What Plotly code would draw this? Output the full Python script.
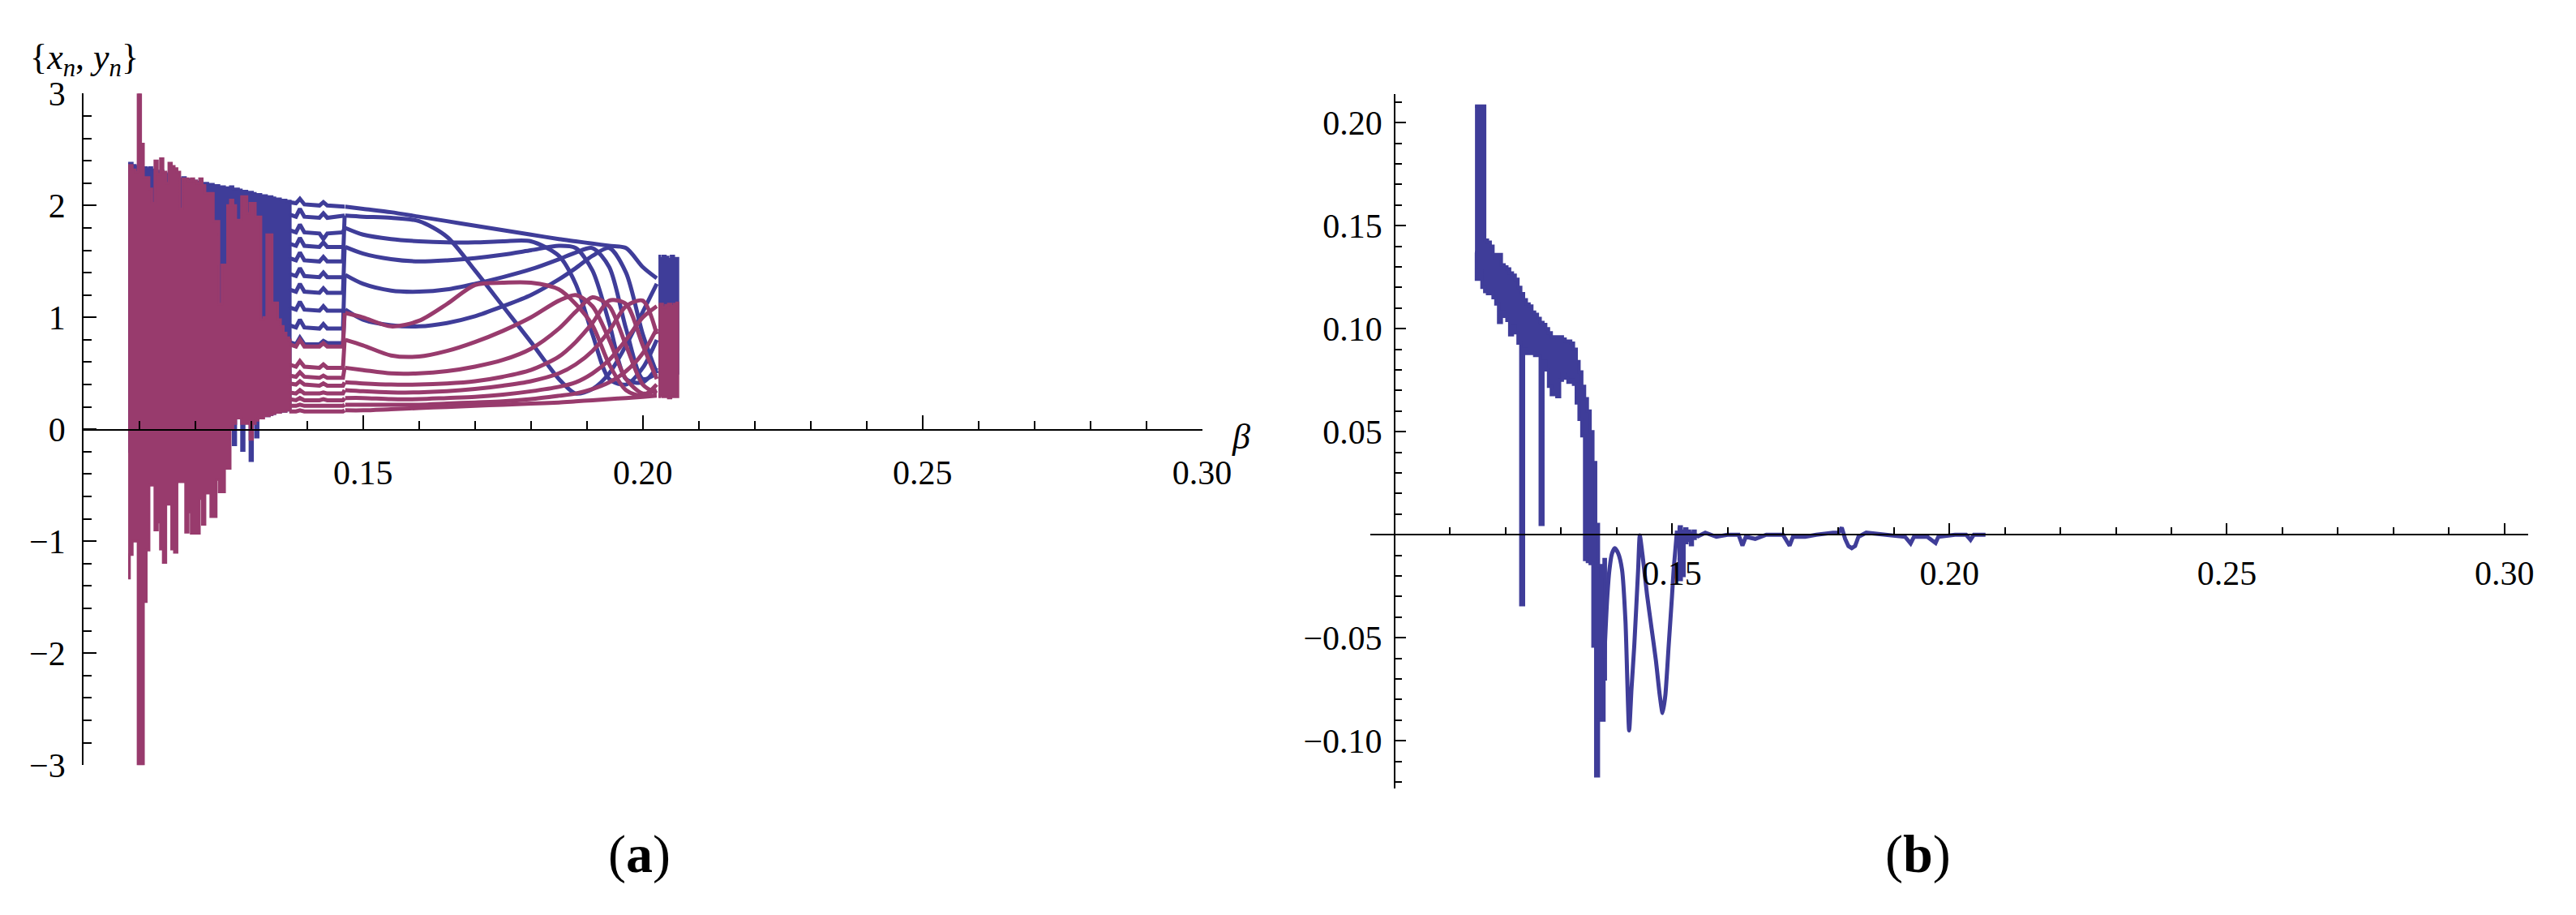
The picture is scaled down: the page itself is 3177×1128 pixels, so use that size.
import plotly.graph_objects as go

W, H = 3177, 1128
BLUE = "#3f3d99"
PURPLE = "#983b6d"
FONT = "Liberation Serif, Times New Roman, serif"

# ── (a) chaotic window: upper / lower envelopes of x_n (blue) and y_n (purple) ──
beta_chaos = [0.1080, 0.1085, 0.1090, 0.1095, 0.1100, 0.1105, 0.1110, 0.1115, 0.1120, 0.1125,
              0.1130, 0.1135, 0.1140, 0.1145, 0.1150, 0.1155, 0.1160, 0.1165, 0.1170, 0.1175,
              0.1180, 0.1185, 0.1190, 0.1195, 0.1200, 0.1205, 0.1210, 0.1215, 0.1220, 0.1225,
              0.1230, 0.1235, 0.1240, 0.1245, 0.1250, 0.1255, 0.1260, 0.1265, 0.1270, 0.1275,
              0.1280, 0.1285, 0.1290, 0.1295, 0.1300, 0.1305, 0.1310, 0.1315, 0.1320, 0.1325,
              0.1330, 0.1335, 0.1340, 0.1345, 0.1350, 0.1355, 0.1360, 0.1365, 0.1370]
y_chaos_hi = [2.36, 2.36, 2.32, 2.30, 3.00, 2.55, 2.25, 2.25, 2.15, 2.02,
              2.40, 2.28, 2.42, 2.30, 2.20, 2.38, 2.35, 2.33, 2.30, 1.97,
              2.24, 2.24, 2.22, 2.24, 2.22, 2.20, 2.24, 2.18, 2.11, 2.11,
              2.11, 1.86, 1.86, 1.12, 1.47, 1.47, 2.00, 2.05, 2.00, 1.87,
              1.87, 2.08, 2.08, 1.93, 2.02, 2.02, 1.90, 1.90, 0.98, 1.00,
              1.74, 1.74, 1.13, 1.13, 0.98, 0.92, 0.86, 0.82, 0.80]
y_chaos_lo = [-1.33, -1.12, -1.00, -1.00, -3.00, -3.00, -1.54, -1.08, -0.50, -0.50,
              -0.90, -0.83, -1.07, -1.19, -0.67, -0.67, -1.07, -1.10, -0.47, -0.47,
              -0.47, -0.92, -0.74, -0.93, -0.93, -0.93, -0.62, -0.85, -0.57, -0.57,
              -0.78, -0.78, -0.45, -0.56, -0.56, -0.35, -0.35, 0.01, 0.05, 0.10,
              0.10, 0.05, 0.05, 0.05, -0.09, 0.05, 0.08, 0.10, 0.10, 0.12,
              0.12, 0.13, 0.14, 0.15, 0.15, 0.16, 0.16, 0.17, 0.17]
x_chaos_hi = [2.38, 2.38, 2.36, 2.35, 2.36, 2.34, 2.34, 2.33, 2.34, 2.32,
              2.31, 2.30, 2.31, 2.29, 2.28, 2.29, 2.27, 2.26, 2.25, 2.24,
              2.25, 2.23, 2.23, 2.22, 2.22, 2.21, 2.21, 2.20, 2.20, 2.19,
              2.19, 2.18, 2.18, 2.17, 2.17, 2.16, 2.16, 2.17, 2.15, 2.15,
              2.14, 2.13, 2.13, 2.12, 2.12, 2.11, 2.10, 2.10, 2.09, 2.09,
              2.08, 2.08, 2.07, 2.06, 2.06, 2.05, 2.05, 2.04, 2.04]
x_chaos_lo = [-0.20, 0.20, 0.20, -0.24, 0.20, 0.20, 0.20, 0.20, 0.20, 0.20,
              0.20, 0.20, 0.20, 0.20, 0.20, 0.20, 0.20, 0.20, 0.20, -0.22,
              0.20, 0.20, 0.20, 0.20, 0.20, 0.20, 0.20, 0.20, 0.20, 0.20,
              0.20, 0.20, 0.20, 0.20, 0.20, 0.20, 0.20, 0.15, -0.14, 0.15,
              0.15, -0.19, 0.15, 0.15, -0.28, 0.12, -0.07, 0.12, 0.12, 0.12,
              0.12, 0.13, 0.14, 0.15, 0.15, 0.16, 0.16, 0.17, 0.17]

# ── (a) short periodic window before the jump at beta ≈ 0.1466 ──
beta_step = [0.1368, 0.1380, 0.1387, 0.1395, 0.1422, 0.1429, 0.1436, 0.1464, 0.1467]
x_step = [
    [2.03, 2.02, 2.06, 2.01, 2.00, 2.03, 2.00, 1.99, 1.99],
    [1.92, 1.90, 1.97, 1.90, 1.89, 1.93, 1.89, 1.90, 1.91],
    [1.78, 1.76, 1.83, 1.76, 1.75, 1.70, 1.75, 1.76, 1.80],
    [1.66, 1.64, 1.71, 1.64, 1.63, 1.67, 1.63, 1.63, 1.63],
    [1.53, 1.51, 1.58, 1.51, 1.50, 1.54, 1.50, 1.50, 1.91],
    [1.39, 1.37, 1.44, 1.37, 1.36, 1.40, 1.36, 1.36, 1.38],
    [1.25, 1.23, 1.30, 1.23, 1.22, 1.26, 1.22, 1.22, 1.63],
    [1.09, 1.07, 1.14, 1.07, 1.06, 1.10, 1.06, 1.06, 1.07],
    [0.93, 0.91, 0.98, 0.91, 0.90, 0.94, 0.90, 0.90, 1.38],
    [0.78, 0.76, 0.82, 0.76, 0.76, 0.79, 0.77, 0.77, 1.07],
]
y_step = [
    [0.76, 0.74, 0.80, 0.74, 0.74, 0.77, 0.74, 0.74, 1.04],
    [0.58, 0.56, 0.61, 0.56, 0.55, 0.58, 0.55, 0.55, 0.80],
    [0.48, 0.47, 0.51, 0.47, 0.46, 0.48, 0.46, 0.46, 0.55],
    [0.41, 0.40, 0.43, 0.40, 0.39, 0.41, 0.39, 0.39, 0.42],
    [0.33, 0.32, 0.35, 0.32, 0.32, 0.33, 0.32, 0.32, 0.35],
    [0.27, 0.26, 0.28, 0.26, 0.26, 0.27, 0.26, 0.26, 0.28],
    [0.21, 0.21, 0.22, 0.21, 0.21, 0.21, 0.21, 0.21, 0.22],
    [0.16, 0.16, 0.17, 0.16, 0.16, 0.16, 0.16, 0.16, 0.17],
]

# ── (a) smooth orbit branches ──
beta_smooth = [0.1468, 0.150, 0.155, 0.160, 0.165, 0.170, 0.175, 0.180,
               0.185, 0.188, 0.191, 0.194, 0.197, 0.200, 0.2025]
x_smooth = [
    [1.99, 1.97, 1.94, 1.90, 1.86, 1.82, 1.78, 1.74, 1.70, 1.68, 1.66, 1.64, 1.62, 1.45, 1.35],
    [1.91, 1.90, 1.89, 1.86, 1.72, 1.42, 1.10, 0.78, 0.45, 0.32, 0.36, 0.50, 0.75, 1.05, 1.30],
    [1.80, 1.74, 1.70, 1.68, 1.67, 1.67, 1.68, 1.68, 1.55, 1.30, 0.85, 0.45, 0.40, 0.55, 0.80],
    [1.63, 1.57, 1.52, 1.50, 1.51, 1.53, 1.56, 1.60, 1.64, 1.62, 1.42, 0.95, 0.45, 0.42, 0.55],
    [1.38, 1.30, 1.24, 1.23, 1.25, 1.30, 1.36, 1.43, 1.52, 1.58, 1.62, 1.45, 0.90, 0.45, 0.50],
    [1.07, 0.98, 0.93, 0.92, 0.95, 1.01, 1.10, 1.20, 1.34, 1.44, 1.55, 1.62, 1.40, 0.85, 0.50],
]
y_smooth = [
    [1.04, 1.00, 0.92, 0.97, 1.12, 1.29, 1.31, 1.31, 1.25, 1.12, 0.93, 0.58, 0.35, 0.30, 0.40],
    [0.80, 0.75, 0.66, 0.65, 0.70, 0.78, 0.88, 1.00, 1.15, 1.20, 1.10, 0.80, 0.45, 0.32, 0.35],
    [0.55, 0.53, 0.50, 0.50, 0.52, 0.56, 0.62, 0.72, 0.90, 1.05, 1.18, 1.10, 0.75, 0.40, 0.32],
    [0.42, 0.41, 0.40, 0.40, 0.41, 0.43, 0.47, 0.53, 0.65, 0.78, 0.95, 1.15, 1.12, 0.75, 0.45],
    [0.35, 0.34, 0.33, 0.33, 0.34, 0.36, 0.39, 0.43, 0.50, 0.58, 0.70, 0.88, 1.10, 1.15, 0.85],
    [0.28, 0.28, 0.27, 0.27, 0.28, 0.29, 0.31, 0.34, 0.38, 0.42, 0.50, 0.62, 0.80, 1.00, 1.10],
    [0.22, 0.22, 0.22, 0.22, 0.23, 0.24, 0.25, 0.27, 0.30, 0.32, 0.36, 0.42, 0.52, 0.68, 0.90],
    [0.17, 0.17, 0.18, 0.19, 0.20, 0.21, 0.22, 0.23, 0.24, 0.25, 0.26, 0.27, 0.28, 0.29, 0.30],
]

# ── (a) final dense band ──
beta_end = [0.2028, 0.2033, 0.2038, 0.2043, 0.2048, 0.2053, 0.2058, 0.2063]
x_end_hi = [1.55, 1.53, 1.55, 1.54, 1.52, 1.55, 1.53, 1.53]
x_end_lo = [0.45, 0.50, 0.45, 0.48, 0.50, 0.45, 0.48, 0.50]
y_end_hi = [1.10, 1.12, 1.09, 1.11, 1.12, 1.10, 1.12, 1.13]
y_end_lo = [0.29, 0.30, 0.29, 0.29, 0.28, 0.29, 0.29, 0.29]

# ── (b) noisy band ──
beta_b = [0.1145, 0.1150, 0.1155, 0.1160, 0.1165, 0.1170, 0.1175, 0.1180, 0.1185, 0.1190,
          0.1195, 0.1200, 0.1205, 0.1210, 0.1215, 0.1220, 0.1225, 0.1230, 0.1235, 0.1240,
          0.1245, 0.1250, 0.1255, 0.1260, 0.1265, 0.1270, 0.1275, 0.1280, 0.1285, 0.1290,
          0.1295, 0.1300, 0.1305, 0.1310, 0.1315, 0.1320, 0.1325, 0.1330, 0.1335, 0.1340,
          0.1345, 0.1350, 0.1355, 0.1360, 0.1365, 0.1370, 0.1375, 0.1380]
b_hi = [0.208, 0.208, 0.208, 0.208, 0.143, 0.142, 0.140, 0.136, 0.134, 0.136,
        0.131, 0.130, 0.129, 0.127, 0.126, 0.124, 0.120, 0.117, 0.114, 0.112,
        0.111, 0.108, 0.107, 0.105, 0.103, 0.102, 0.100, 0.098, 0.096, 0.096,
        0.095, 0.096, 0.095, 0.094, 0.094, 0.093, 0.090, 0.084, 0.079, 0.072,
        0.066, 0.060, 0.050, 0.035, 0.005, -0.015, -0.020, -0.012]
b_lo = [0.137, 0.124, 0.128, 0.120, 0.118, 0.117, 0.118, 0.115, 0.112, 0.103,
        0.108, 0.106, 0.104, 0.097, 0.101, 0.098, 0.093, -0.034, 0.090, 0.088,
        0.089, 0.088, 0.087, 0.087, 0.005, 0.084, 0.080, 0.072, 0.068, 0.070,
        0.067, 0.075, 0.078, 0.076, 0.074, 0.075, 0.073, 0.064, 0.056, 0.048,
        -0.012, -0.013, -0.014, -0.054, -0.117, -0.090, -0.090, -0.070]

# ── (b) smooth oscillation ──
beta_osc = [0.1378, 0.1383, 0.13873, 0.1392, 0.1397, 0.1403, 0.1410, 0.14162, 0.14228, 0.1427,
            0.1432, 0.1439, 0.1442, 0.1447, 0.1455, 0.1463, 0.1471, 0.1478, 0.1483, 0.1488,
            0.1494, 0.1500, 0.1503, 0.1509]
b_osc = [-0.060, -0.032, -0.017, -0.009, -0.0065, -0.009, -0.017, -0.042, -0.095, -0.075,
         -0.054, -0.017, -0.0003, -0.010, -0.029, -0.045, -0.061, -0.078, -0.0865, -0.078,
         -0.054, -0.030, -0.017, 0.002]

# ── (b) small noise then flat tail ──
beta_nz = [0.1510, 0.1515, 0.1520, 0.1525, 0.1530, 0.1535, 0.1540, 0.1545]
nz_hi = [0.003, 0.004, 0.002, 0.003, 0.002, 0.001, 0.002, 0.000]
nz_lo = [-0.012, -0.022, -0.020, -0.004, -0.003, -0.005, -0.002, -0.001]

beta_flat = [0.1545, 0.1560, 0.1580, 0.1600, 0.1620, 0.1627, 0.1633, 0.1650, 0.1670, 0.1700,
             0.1712, 0.1718, 0.1740, 0.1760, 0.1790, 0.1800, 0.1806, 0.1812, 0.1818, 0.1824,
             0.1830, 0.1836, 0.1850, 0.1880, 0.1920, 0.1930, 0.1936, 0.1960, 0.1975, 0.1980,
             0.2010, 0.2030, 0.2038, 0.2044, 0.2065]
b_flat = [-0.001, 0.001, -0.001, 0.000, 0.000, -0.0053, -0.001, -0.002, 0.000, 0.000,
          -0.0053, -0.001, -0.001, 0.000, 0.001, 0.001, 0.0035, -0.002, -0.0055, -0.0065,
          -0.0055, -0.001, 0.001, 0.000, -0.001, -0.0042, -0.001, -0.001, -0.004, -0.001,
          0.000, 0.000, -0.0025, 0.000, 0.000]

# ── ticks ──
xa_ticks = [0.15, 0.20, 0.25, 0.30]
xa_labels = ["0.15", "0.20", "0.25", "0.30"]
ya_ticks = [-3, -2, -1, 0, 1, 2, 3]
ya_labels = ["\u22123", "\u22122", "\u22121", "0", "1", "2", "3"]
xb_ticks = [0.15, 0.20, 0.25, 0.30]
xb_labels = ["0.15", "0.20", "0.25", "0.30"]
yb_ticks = [-0.10, -0.05, 0.05, 0.10, 0.15, 0.20]
yb_labels = ["\u22120.10", "\u22120.05", "0.05", "0.10", "0.15", "0.20"]

x_minor = [round(0.10 + 0.01 * k, 2) for k in range(1, 21) if k % 5]
ya_minor = [round(-3 + 0.2 * k, 1) for k in range(31) if k % 5]
yb_minor = [round(-0.12 + 0.01 * k, 2) for k in range(34) if (k - 2) % 5]


def band(beta, hi, lo):
    return list(beta) + list(beta[::-1]), list(hi) + list(lo[::-1])


def px_x(p):
    return p / W


def px_y(p):
    return (H - p) / H


fig = go.Figure()

# ── Panel (a): blue x_n first, purple y_n on top ─────────────────────────────
for color, ch_hi, ch_lo, steps, smooth, e_hi, e_lo in [
    (BLUE, x_chaos_hi, x_chaos_lo, x_step, x_smooth, x_end_hi, x_end_lo),
    (PURPLE, y_chaos_hi, y_chaos_lo, y_step, y_smooth, y_end_hi, y_end_lo),
]:
    bx, by = band(beta_chaos, ch_hi, ch_lo)
    fig.add_trace(go.Scatter(x=bx, y=by, mode="lines", fill="toself", fillcolor=color,
                             line=dict(color=color, width=3, shape="hvh"),
                             xaxis="x", yaxis="y", hoverinfo="skip"))
    for vals in steps:
        fig.add_trace(go.Scatter(x=beta_step, y=vals, mode="lines",
                                 line=dict(color=color, width=5),
                                 xaxis="x", yaxis="y", hoverinfo="skip"))
    for vals in smooth:
        fig.add_trace(go.Scatter(x=beta_smooth, y=vals, mode="lines",
                                 line=dict(color=color, width=5, shape="spline", smoothing=0.8),
                                 xaxis="x", yaxis="y", hoverinfo="skip"))
    ex, ey = band(beta_end, e_hi, e_lo)
    fig.add_trace(go.Scatter(x=ex, y=ey, mode="lines", fill="toself", fillcolor=color,
                             line=dict(color=color, width=3, shape="hvh"),
                             xaxis="x", yaxis="y", hoverinfo="skip"))

# ── Panel (b) ────────────────────────────────────────────────────────────────
bx, by = band(beta_b, b_hi, b_lo)
fig.add_trace(go.Scatter(x=bx, y=by, mode="lines", fill="toself", fillcolor=BLUE,
                         line=dict(color=BLUE, width=4, shape="hvh"),
                         xaxis="x2", yaxis="y2", hoverinfo="skip"))
fig.add_trace(go.Scatter(x=beta_osc, y=b_osc, mode="lines",
                         line=dict(color=BLUE, width=5, shape="spline", smoothing=0.6),
                         xaxis="x2", yaxis="y2", hoverinfo="skip"))
nx, ny = band(beta_nz, nz_hi, nz_lo)
fig.add_trace(go.Scatter(x=nx, y=ny, mode="lines", fill="toself", fillcolor=BLUE,
                         line=dict(color=BLUE, width=3, shape="hvh"),
                         xaxis="x2", yaxis="y2", hoverinfo="skip"))
fig.add_trace(go.Scatter(x=beta_flat, y=b_flat, mode="lines",
                         line=dict(color=BLUE, width=5),
                         xaxis="x2", yaxis="y2", hoverinfo="skip"))

# ── Axes ─────────────────────────────────────────────────────────────────────
tick_font = dict(family=FONT, size=42, color="black")
common = dict(showline=True, linecolor="black", linewidth=1.6, showgrid=False,
              zeroline=False, ticks="inside", tickcolor="black", tickwidth=1.6,
              tickmode="array", tickfont=tick_font)

fig.update_layout(
    width=W, height=H,
    paper_bgcolor="white", plot_bgcolor="white",
    margin=dict(l=0, r=0, t=0, b=0),
    showlegend=False,
    font=dict(family=FONT, color="black"),
    xaxis=dict(**common, domain=[px_x(96), px_x(1492)], range=[0.10, 0.30],
               anchor="free", position=px_y(521), ticklen=17,
               tickvals=xa_ticks, ticktext=xa_labels, ticklabelstandoff=16,
               minor=dict(tickmode="array", tickvals=x_minor, ticks="inside",
                          ticklen=10, tickwidth=1.6, tickcolor="black")),
    yaxis=dict(**common, domain=[px_y(952), px_y(89)], range=[-3.0, 3.0],
               anchor="x", ticklen=16,
               tickvals=ya_ticks, ticktext=ya_labels, ticklabelstandoff=12,
               minor=dict(tickmode="array", tickvals=ya_minor, ticks="inside",
                          ticklen=10, tickwidth=1.6, tickcolor="black")),
    xaxis2=dict(**common, domain=[px_x(1702), px_x(3147)], range=[0.09566, 0.30434],
                anchor="free", position=px_y(656), ticklen=13,
                tickvals=xb_ticks, ticktext=xb_labels, ticklabelstandoff=11,
                minor=dict(tickmode="array", tickvals=x_minor, ticks="inside",
                           ticklen=8, tickwidth=1.6, tickcolor="black")),
    yaxis2=dict(**common, domain=[px_y(982), px_y(90)], range=[-0.1231, 0.2137],
                anchor="free", position=px_x(1732), ticklen=13,
                tickvals=yb_ticks, ticktext=yb_labels, ticklabelstandoff=6,
                minor=dict(tickmode="array", tickvals=yb_minor, ticks="inside",
                           ticklen=8, tickwidth=1.6, tickcolor="black")),
)

# ── Labels ───────────────────────────────────────────────────────────────────
ann = dict(xref="paper", yref="paper", showarrow=False, xanchor="center", yanchor="middle")
fig.add_annotation(**ann, x=px_x(97), y=px_y(45),
                   text="{<i>x</i><sub><i>n</i></sub>, <i>y</i><sub><i>n</i></sub>}",
                   font=dict(family=FONT, size=44, color="black"))
fig.add_annotation(**ann, x=px_x(1540), y=px_y(530), text="<i>\u03b2</i>",
                   font=dict(family=FONT, size=44, color="black"))
fig.add_annotation(**ann, x=px_x(790), y=px_y(1067), text="(<b>a</b>)",
                   font=dict(family=FONT, size=66, color="black"))
fig.add_annotation(**ann, x=px_x(2385), y=px_y(1067), text="(<b>b</b>)",
                   font=dict(family=FONT, size=66, color="black"))

fig.write_html("out.html")
